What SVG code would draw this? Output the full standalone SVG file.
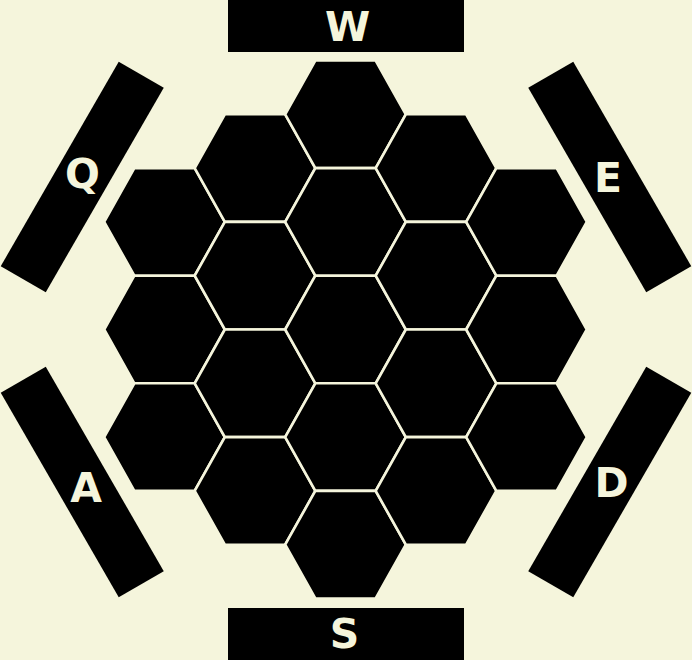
<svg xmlns="http://www.w3.org/2000/svg" xmlns:xlink="http://www.w3.org/1999/xlink" width="692" height="660" viewBox="0 0 692 660">
<style>
.bg{fill:#f5f5dc}
.bar{fill:#000000}
.hx{fill:#000000;stroke:#f5f5dc;stroke-width:2.6;stroke-linejoin:miter}
.key{fill:#f5f5dc;font-family:"DejaVu Sans","Liberation Sans",sans-serif;font-weight:bold;font-size:41px;text-anchor:middle}
</style>
<defs>
<polygon id="hex" points="-60.3,0 -30.15,-53.8 30.15,-53.8 60.3,0 30.15,53.8 -30.15,53.8"/>
</defs>
<rect class="bg" x="0" y="0" width="692" height="660"/>
<g id="keys">
<g id="key-w"><rect class="bar" x="228" y="0" width="236" height="52"/><text class="key" x="347.5" y="41">W</text></g>
<g id="key-s"><rect class="bar" x="228" y="608" width="236" height="52"/><text class="key" x="344.5" y="648">S</text></g>
<g id="key-q"><rect class="bar" x="-26" y="-118" width="52" height="236" transform="translate(82.25,177) rotate(30)"/><text class="key" x="82.5" y="188">Q</text></g>
<g id="key-e"><rect class="bar" x="-26" y="-118" width="52" height="236" transform="translate(609.75,177) rotate(-30)"/><text class="key" x="608" y="192">E</text></g>
<g id="key-a"><rect class="bar" x="-26" y="-118" width="52" height="236" transform="translate(82.25,482) rotate(-30)"/><text class="key" x="86" y="502">A</text></g>
<g id="key-d"><rect class="bar" x="-26" y="-118" width="52" height="236" transform="translate(609.75,482) rotate(30)"/><text class="key" x="611.5" y="497">D</text></g>
</g>
<g id="grid">
<g id="hex-m2-0"><use xlink:href="#hex" class="hx" transform="translate(164.5,221.9)"/></g>
<g id="hex-m2-1"><use xlink:href="#hex" class="hx" transform="translate(164.5,329.5)"/></g>
<g id="hex-m2-2"><use xlink:href="#hex" class="hx" transform="translate(164.5,437.1)"/></g>
<g id="hex-m1-0"><use xlink:href="#hex" class="hx" transform="translate(255,168.1)"/></g>
<g id="hex-m1-1"><use xlink:href="#hex" class="hx" transform="translate(255,275.7)"/></g>
<g id="hex-m1-2"><use xlink:href="#hex" class="hx" transform="translate(255,383.3)"/></g>
<g id="hex-m1-3"><use xlink:href="#hex" class="hx" transform="translate(255,490.9)"/></g>
<g id="hex-0-0"><use xlink:href="#hex" class="hx" transform="translate(345.5,114.3)"/></g>
<g id="hex-0-1"><use xlink:href="#hex" class="hx" transform="translate(345.5,221.9)"/></g>
<g id="hex-0-2"><use xlink:href="#hex" class="hx" transform="translate(345.5,329.5)"/></g>
<g id="hex-0-3"><use xlink:href="#hex" class="hx" transform="translate(345.5,437.1)"/></g>
<g id="hex-0-4"><use xlink:href="#hex" class="hx" transform="translate(345.5,544.7)"/></g>
<g id="hex-p1-0"><use xlink:href="#hex" class="hx" transform="translate(436,168.1)"/></g>
<g id="hex-p1-1"><use xlink:href="#hex" class="hx" transform="translate(436,275.7)"/></g>
<g id="hex-p1-2"><use xlink:href="#hex" class="hx" transform="translate(436,383.3)"/></g>
<g id="hex-p1-3"><use xlink:href="#hex" class="hx" transform="translate(436,490.9)"/></g>
<g id="hex-p2-0"><use xlink:href="#hex" class="hx" transform="translate(526.5,221.9)"/></g>
<g id="hex-p2-1"><use xlink:href="#hex" class="hx" transform="translate(526.5,329.5)"/></g>
<g id="hex-p2-2"><use xlink:href="#hex" class="hx" transform="translate(526.5,437.1)"/></g>
</g>
<g id="connectors"/>
</svg>
